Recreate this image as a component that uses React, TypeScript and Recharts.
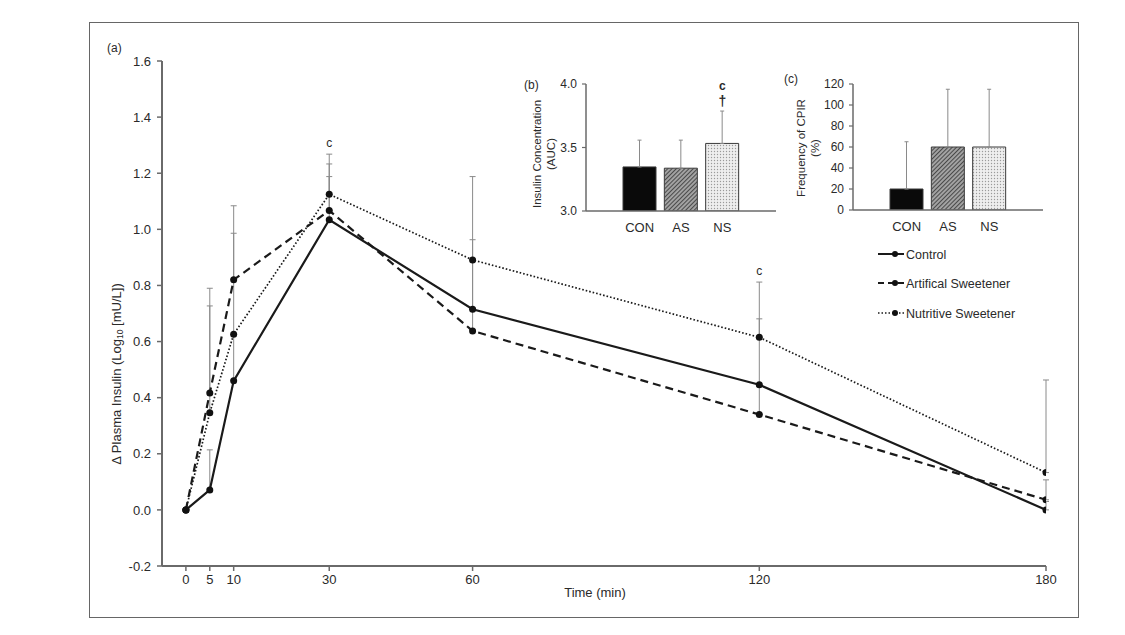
import React from 'react';
import { ComposedChart, Line, XAxis, YAxis, ErrorBar, ReferenceDot, BarChart, Bar, Cell } from 'recharts';

// ---- main panel (a) data ----
const times = [0, 5, 10, 30, 60, 120, 180];
const control = [0, 0.071, 0.46, 1.034, 0.715, 0.446, 0];
const controlErr = [0, 0.143, 0.16, 0.154, 0.248, 0.235, 0.03];
const artificial = [0, 0.417, 0.82, 1.067, 0.638, 0.34, 0.036];
const artificialErr = [0, 0.373, 0.264, 0.166, 0.25, 0.1, 0.071];
const nutritive = [0, 0.346, 0.626, 1.125, 0.891, 0.615, 0.133];
const nutritiveErr = [0, 0.381, 0.36, 0.143, 0.297, 0.197, 0.33];
const yTicks = [-0.2, 0, 0.2, 0.4, 0.6, 0.8, 1.0, 1.2, 1.4, 1.6];
const sigTimesMain = [30, 120];

// ---- inset (b) ----
const groups = ['CON', 'AS', 'NS'];
const aucValues = [3.347, 3.337, 3.532];
const aucErr = [0.211, 0.221, 0.255];
const aucTicks = [3.0, 3.5, 4.0];

// ---- inset (c) ----
const cpirValues = [20, 60, 60];
const cpirErr = [45, 55, 55];
const cpirTicks = [0, 20, 40, 60, 80, 100, 120];

const mainData = times.map((t, i) => ({
  t,
  con: control[i],
  conE: [0, controlErr[i]],
  as: artificial[i],
  asE: [0, artificialErr[i]],
  ns: nutritive[i],
  nsE: [0, nutritiveErr[i]],
}));
const aucData = groups.map((g, i) => ({ g, v: aucValues[i], e: [0, aucErr[i]] }));
const cpirData = groups.map((g, i) => ({ g, v: cpirValues[i], e: [0, cpirErr[i]] }));

const FONT = '"Liberation Sans", Arial, Helvetica, sans-serif';
const TXT = '#2a2a2a';
const AX = '#6a6a6a';
const barFills = ['#0a0a0a', 'url(#hatchAS)', 'url(#dotsNS)'];
const dotStyle = { r: 3.5, fill: '#111', stroke: '#111', strokeWidth: 0 };

const sigLabel = (props: any) => {
  const { viewBox } = props;
  const cx = viewBox.x + (viewBox.width || 0) / 2;
  const cy = viewBox.y;
  return (
    <text x={cx} y={cy - 7} textAnchor="middle" fontSize={12} fill={TXT} fontFamily={FONT}>c</text>
  );
};

const nsLabel = (props: any) => {
  const { viewBox } = props;
  const cx = viewBox.x + (viewBox.width || 0) / 2;
  const cy = viewBox.y;
  return (
    <g>
      <text x={cx} y={cy - 21} textAnchor="middle" fontSize={12} fontWeight="bold" fill={TXT} fontFamily={FONT}>c</text>
      <text x={cx} y={cy - 5} textAnchor="middle" fontSize={14} fontWeight="bold" fill={TXT} fontFamily={FONT}>†</text>
    </g>
  );
};

export default function App() {
  return (
    <div style={{ position: 'absolute', left: 0, top: 0, width: 1125, height: 635, background: '#fff', fontFamily: FONT, overflow: 'hidden' }}>
      <svg width={0} height={0} style={{ position: 'absolute' }}>
        <defs>
          <pattern id="hatchAS" width="3" height="3" patternUnits="userSpaceOnUse" patternTransform="rotate(45)">
            <rect width="3" height="3" fill="#a4a4a4" />
            <line x1="0.5" y1="0" x2="0.5" y2="3" stroke="#4a4a4a" strokeWidth="1.1" />
          </pattern>
          <pattern id="dotsNS" width="3" height="3" patternUnits="userSpaceOnUse">
            <rect width="3" height="3" fill="#eeeeee" />
            <circle cx="1.5" cy="1.5" r="0.7" fill="#9a9a9a" />
          </pattern>
        </defs>
      </svg>

      <div style={{ position: 'absolute', left: 89, top: 22, width: 990, height: 596, border: '1.5px solid #666', boxSizing: 'border-box' }} />

      {/* main chart (a) */}
      <div style={{ position: 'absolute', left: 0, top: 0 }}>
        <ComposedChart width={1125} height={635} data={mainData} margin={{ top: 61, right: 79, bottom: 68, left: 161 }}>
          <XAxis
            type="number"
            dataKey="t"
            domain={[-5, 180]}
            ticks={times}
            height={1}
            interval={0}
            tickSize={5}
            tickMargin={4}
            tick={{ fontSize: 13, fill: TXT, fontFamily: FONT }}
            axisLine={{ stroke: AX, strokeWidth: 2 }}
            tickLine={{ stroke: AX, strokeWidth: 1.5 }}
            allowDataOverflow
          />
          <YAxis
            type="number"
            domain={[-0.2, 1.6]}
            ticks={yTicks}
            width={1}
            interval={0}
            tickSize={5}
            tickMargin={6}
            tickFormatter={(v: number) => v.toFixed(1)}
            tick={{ fontSize: 13, fill: TXT, fontFamily: FONT }}
            axisLine={{ stroke: AX, strokeWidth: 2 }}
            tickLine={{ stroke: AX, strokeWidth: 1.5 }}
            allowDataOverflow
          />
          <Line dataKey="ns" type="linear" stroke="#1a1a1a" strokeWidth={1.7} strokeDasharray="1.6 2" dot={dotStyle} activeDot={false} isAnimationActive={false}>
            <ErrorBar dataKey="nsE" width={3} stroke="#8a8a8a" strokeWidth={1} direction="y" />
          </Line>
          <Line dataKey="as" type="linear" stroke="#1a1a1a" strokeWidth={2.2} strokeDasharray="8 5" dot={dotStyle} activeDot={false} isAnimationActive={false}>
            <ErrorBar dataKey="asE" width={3} stroke="#8a8a8a" strokeWidth={1} direction="y" />
          </Line>
          <Line dataKey="con" type="linear" stroke="#1a1a1a" strokeWidth={2.2} dot={dotStyle} activeDot={false} isAnimationActive={false}>
            <ErrorBar dataKey="conE" width={3} stroke="#8a8a8a" strokeWidth={1} direction="y" />
          </Line>
          {sigTimesMain.map((t) => {
            const i = times.indexOf(t);
            const top = Math.max(control[i] + controlErr[i], artificial[i] + artificialErr[i], nutritive[i] + nutritiveErr[i]);
            return <ReferenceDot key={t} x={t} y={top} r={0} fill="none" stroke="none" label={sigLabel} />;
          })}
        </ComposedChart>
      </div>

      {/* inset (b) */}
      <div style={{ position: 'absolute', left: 500, top: 60 }}>
        <BarChart width={300} height={180} data={aucData} margin={{ top: 24, right: 24, bottom: 28, left: 85 }} barSize={33}>
          <XAxis
            dataKey="g"
            type="category"
            padding={{ left: 33, right: 33 }}
            height={1}
            tickLine={false}
            tickMargin={6}
            tick={{ fontSize: 13, fill: TXT, fontFamily: FONT }}
            axisLine={{ stroke: AX, strokeWidth: 1.5 }}
          />
          <YAxis
            type="number"
            domain={[3, 4]}
            ticks={aucTicks}
            width={1}
            interval={0}
            tickSize={4}
            tickMargin={5}
            tickFormatter={(v: number) => v.toFixed(1)}
            tick={{ fontSize: 12, fill: TXT, fontFamily: FONT }}
            axisLine={{ stroke: AX, strokeWidth: 1.5 }}
            tickLine={{ stroke: AX, strokeWidth: 1.2 }}
            allowDataOverflow
          />
          <Bar dataKey="v" stroke="#3a3a3a" strokeWidth={1} isAnimationActive={false}>
            {aucData.map((d, i) => (
              <Cell key={d.g} fill={barFills[i]} />
            ))}
            <ErrorBar dataKey="e" width={2} stroke="#8a8a8a" strokeWidth={1} direction="y" />
          </Bar>
          <ReferenceDot x="NS" y={aucValues[2] + aucErr[2]} r={0} fill="none" stroke="none" label={nsLabel} />
        </BarChart>
      </div>

      {/* inset (c) */}
      <div style={{ position: 'absolute', left: 780, top: 60 }}>
        <BarChart width={300} height={200} data={cpirData} margin={{ top: 24, right: 37, bottom: 49, left: 72 }} barSize={33}>
          <XAxis
            dataKey="g"
            type="category"
            padding={{ left: 33, right: 33 }}
            height={1}
            tickLine={false}
            tickMargin={6}
            tick={{ fontSize: 13, fill: TXT, fontFamily: FONT }}
            axisLine={{ stroke: AX, strokeWidth: 1.5 }}
          />
          <YAxis
            type="number"
            domain={[0, 120]}
            ticks={cpirTicks}
            width={1}
            interval={0}
            tickSize={4}
            tickMargin={5}
            tick={{ fontSize: 12, fill: TXT, fontFamily: FONT }}
            axisLine={{ stroke: AX, strokeWidth: 1.5 }}
            tickLine={{ stroke: AX, strokeWidth: 1.2 }}
            allowDataOverflow
          />
          <Bar dataKey="v" stroke="#3a3a3a" strokeWidth={1} isAnimationActive={false}>
            {cpirData.map((d, i) => (
              <Cell key={d.g} fill={barFills[i]} />
            ))}
            <ErrorBar dataKey="e" width={2} stroke="#8a8a8a" strokeWidth={1} direction="y" />
          </Bar>
        </BarChart>
      </div>

      {/* text overlay: panel letters, axis titles, legend */}
      <svg width={1125} height={635} style={{ position: 'absolute', left: 0, top: 0, pointerEvents: 'none' }} fontFamily={FONT}>
        <text x={107} y={52} fontSize={12} fill={TXT}>(a)</text>
        <text x={524} y={89} fontSize={12} fill={TXT}>(b)</text>
        <text x={784} y={83} fontSize={12} fill={TXT}>(c)</text>

        <text x={595} y={597} fontSize={13} fill={TXT} textAnchor="middle">Time (min)</text>

        <text transform="translate(121,374) rotate(-90)" fontSize={13} fill={TXT} textAnchor="middle">
          Δ Plasma Insulin (Log<tspan fontSize={8.5} dy={2}>10</tspan><tspan dy={-2}> [mU/L])</tspan>
        </text>

        <text transform="translate(541,154) rotate(-90)" fontSize={11.5} fill={TXT} textAnchor="middle">Insulin Concentration</text>
        <text transform="translate(555,154) rotate(-90)" fontSize={11.5} fill={TXT} textAnchor="middle">(AUC)</text>

        <text transform="translate(805,148) rotate(-90)" fontSize={11.5} fill={TXT} textAnchor="middle">Frequency of CPIR</text>
        <text transform="translate(819,148) rotate(-90)" fontSize={11.5} fill={TXT} textAnchor="middle">(%)</text>

        {/* legend */}
        <line x1={878} y1={254} x2={904} y2={254} stroke="#1a1a1a" strokeWidth={2} />
        <circle cx={895} cy={254} r={3} fill="#111" />
        <text x={906} y={258.5} fontSize={12.5} fill={TXT}>Control</text>

        <line x1={878} y1={283} x2={904} y2={283} stroke="#1a1a1a" strokeWidth={2} strokeDasharray="6 4" />
        <circle cx={895} cy={283} r={3} fill="#111" />
        <text x={906} y={287.5} fontSize={12.5} fill={TXT}>Artifical Sweetener</text>

        <line x1={878} y1={313} x2={904} y2={313} stroke="#1a1a1a" strokeWidth={1.5} strokeDasharray="1.5 2" />
        <circle cx={895} cy={313} r={3} fill="#111" />
        <text x={906} y={317.5} fontSize={12.5} fill={TXT}>Nutritive Sweetener</text>
      </svg>
    </div>
  );
}
